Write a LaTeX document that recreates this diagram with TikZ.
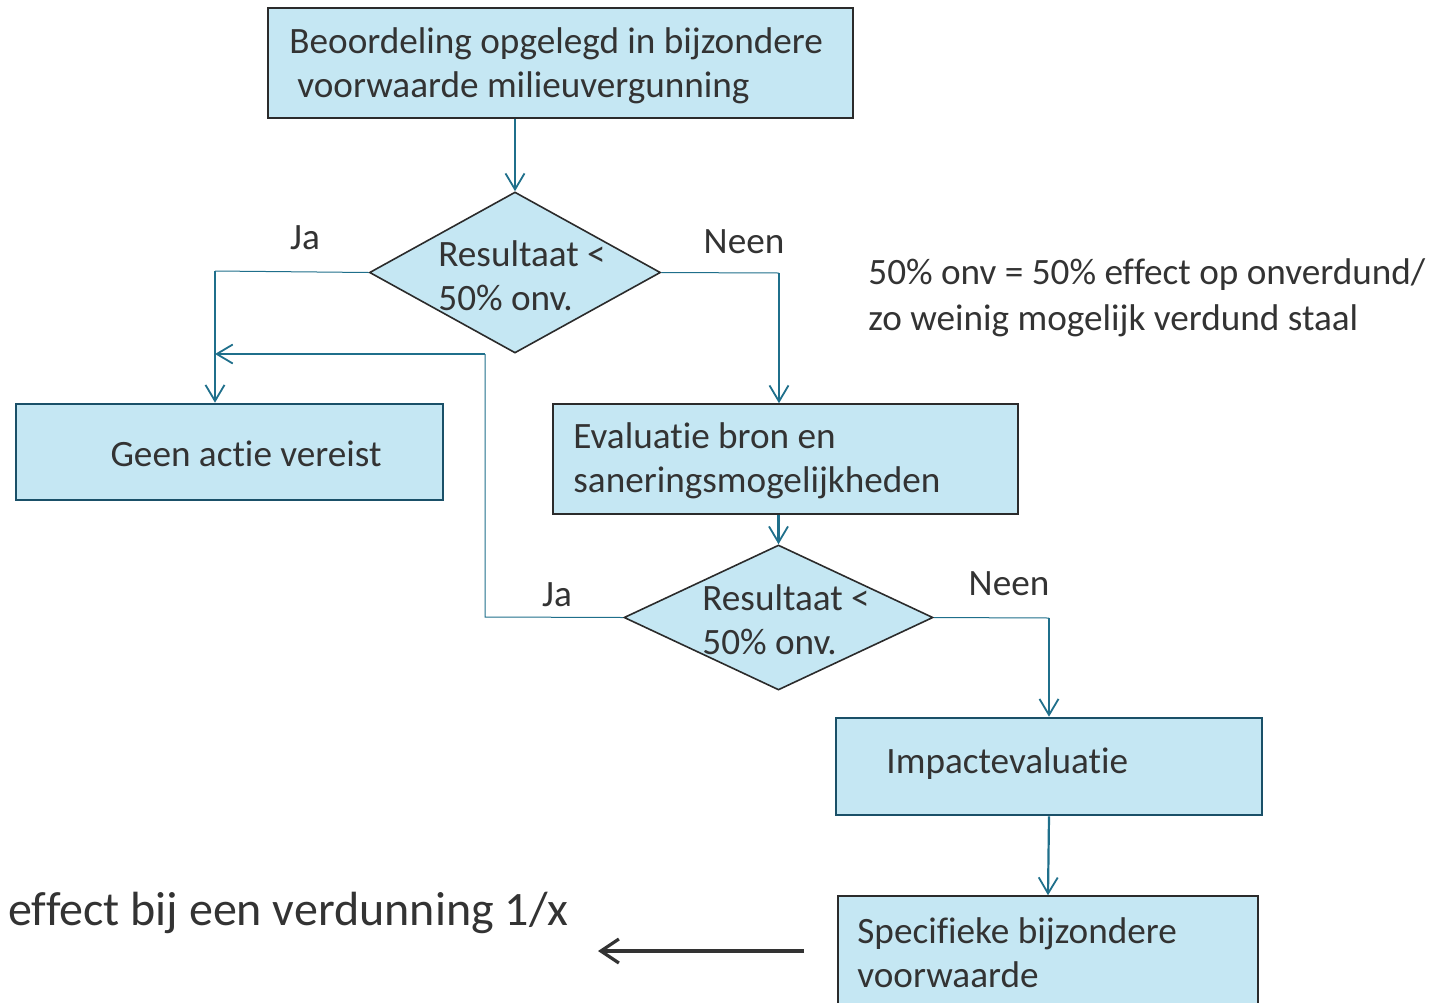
\documentclass[tikz,border=0pt]{standalone}
\usepackage{fontspec}
\setmainfont{Carlito}[Ligatures=NoCommon]
\usetikzlibrary{shapes.geometric,arrows.meta}
\definecolor{boxfill}{HTML}{C5E7F3}
\definecolor{txt}{HTML}{333333}
\definecolor{conn}{HTML}{1F6F8B}
\definecolor{tealborder}{HTML}{1A5068}
\definecolor{grayborder}{HTML}{2B2B2B}
\begin{document}
\begin{tikzpicture}[x=0.5pt,y=-0.5pt,
  every node/.style={text=txt, font=\fontsize{18.6}{22}\selectfont},
  box/.style={draw=grayborder, line width=0.8pt, fill=boxfill, inner sep=0pt},
  tealbox/.style={draw=tealborder, line width=1.3pt, fill=boxfill, inner sep=0pt},
  dec/.style={diamond, draw=grayborder, line width=0.8pt, fill=boxfill, inner sep=0pt},
  txtl/.style={inner sep=0pt, align=left, anchor=west},
  lbl/.style={inner sep=0pt, anchor=base},
  tip/.style={-{Straight Barb[length=8pt,width=9.5pt,line width=0.9pt]}},
  thin/.style={draw=conn, line width=0.5pt},
  thick/.style={draw=conn, line width=1.1pt}
]
\useasboundingbox (0,0) rectangle (1441,1002);

% boxes
\node[box, minimum width=292.5pt, minimum height=55pt] (b1) at (560.5,63) {};
\node[txtl] (b1t) at (289,66) {Beoordeling opgelegd in bijzondere\\\hspace*{4pt}voorwaarde milieuvergunning};

\node[dec, minimum width=145.5pt, minimum height=80.5pt] (d1) at (515,272.5) {};
\node[txtl] (d1t) at (438,276) {Resultaat <\\50\% onv.};

\node[tealbox, minimum width=213.5pt, minimum height=48pt] (geen) at (229.5,452) {};
\node[inner sep=0pt] (geent) at (246,454) {Geen actie vereist};

\node[box, minimum width=232.5pt, minimum height=55pt] (eval) at (785.5,459) {};
\node[txtl] (evalt) at (573,461) {Evaluatie bron en\\saneringsmogelijkheden};

\node[dec, minimum width=154.5pt, minimum height=72.5pt] (d2) at (778.5,617.5) {};
\node[txtl] (d2t) at (702,620) {Resultaat <\\50\% onv.};

\node[tealbox, minimum width=213pt, minimum height=48.5pt] (imp) at (1049,766.5) {};
\node[txtl] (impt) at (886,764) {Impactevaluatie};

\node[box, minimum width=210pt, minimum height=55pt] (spec) at (1048,951) {};
\node[txtl] (spect) at (857,953) {Specifieke bijzondere\\voorwaarde};

% labels
\node[lbl] (ja1) at (305,249) {Ja};
\node[lbl] (neen1) at (744,253) {Neen};
\node[lbl] (ja2) at (557,606) {Ja};
\node[lbl] (neen2) at (1009,595) {Neen};

\node[txtl, font=\fontsize{18.6}{23}\selectfont] (note) at (868,298)
  {50\% onv = 50\% effect op onverdund/\\zo weinig mogelijk verdund staal};

\node[inner sep=0pt, anchor=west, font=\fontsize{24}{28}\selectfont] (eff) at (8,913) {effect bij een verdunning 1/x};

% connectors
\coordinate (c1) at (215,271);
\coordinate (c2) at (779,273);
\coordinate (f1) at (485,617);
\coordinate (f2) at (485,354);
\coordinate (f3) at (215,354);
\coordinate (n2) at (1049,618);
\coordinate (ae) at (804,951);
\coordinate (ab) at (598,951);

\draw[thick, tip] (b1.south -| d1.north) -- (d1.north);
\draw[thin] (d1.west) -- (c1);
\draw[thick, tip] (c1) -- (geen.north -| c1);
\draw[thin] (d1.east) -- (c2);
\draw[thick, tip] (c2) -- (eval.north -| c2);
\draw[thick, tip] (eval.south -| d2.north) -- (d2.north);
\draw[thin] (d2.west) -- (f1) -- (f2);
\draw[thick, tip] (f2) -- (f3);
\draw[thin] (d2.east) -- (n2);
\draw[thick, tip] (n2) -- (imp.north -| n2);
\draw[thick, tip] (imp.south) -- (spec.north);
\draw[draw=txt, line width=2pt, -{Straight Barb[length=9pt,width=12pt,line width=1.6pt]}] (ae) -- (ab);
\end{tikzpicture}
\end{document}
